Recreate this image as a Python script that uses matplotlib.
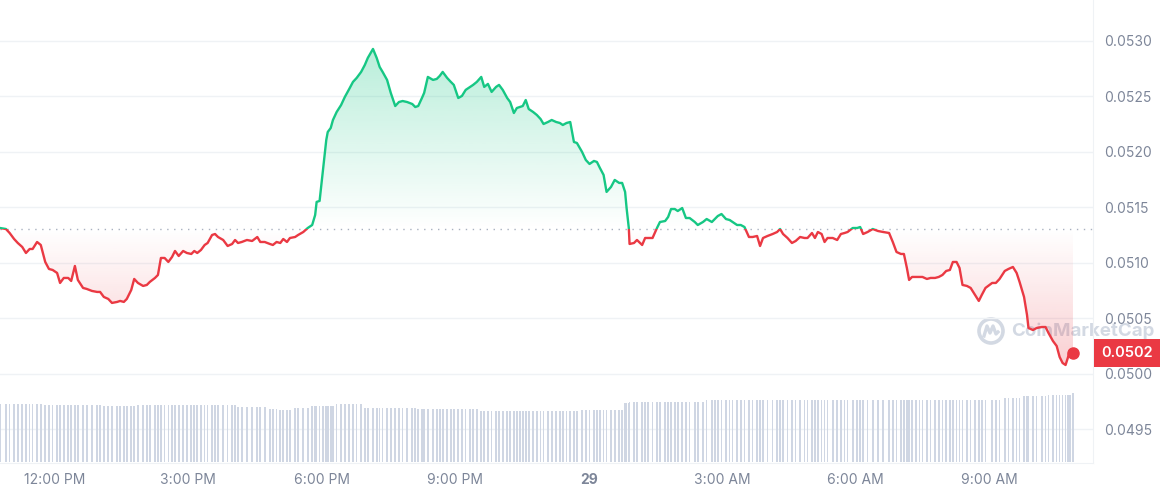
import numpy as np
import pandas as pd
import matplotlib
matplotlib.use("Agg")
import matplotlib.pyplot as plt
from matplotlib.path import Path
from matplotlib.patches import Rectangle, Circle
from matplotlib.transforms import IdentityTransform

plt.rcParams['font.family'] = ['Inter', 'DejaVu Sans']

# ---------------- data ----------------
start = pd.Timestamp('2024-05-28 10:46')   # first point of the 24h window
open_price = 0.05131                        # 24h reference price (dotted line)

# minutes after start
minutes = [
    0, 8, 13, 19, 24, 30, 35, 40, 44, 50, 55, 61,
    66, 71, 77, 81, 86, 92, 96, 101, 105, 112, 117, 124,
    131, 135, 140, 146, 151, 158, 162, 167, 171, 177, 181, 186,
    193, 198, 202, 209, 213, 217, 222, 227, 232, 236, 241, 247,
    252, 258, 262, 266, 271, 276, 280, 286, 290, 294, 301, 307,
    313, 317, 321, 326, 333, 340, 347, 351, 357, 364, 368, 373,
    378, 382, 387, 391, 398, 402, 409, 415, 421, 425, 427, 431,
    436, 440, 442, 446, 449, 454, 460, 465, 471, 476, 481, 487,
    492, 496, 503, 508, 512, 516, 522, 527, 533, 538, 543, 549,
    556, 560, 564, 569, 572, 577, 584, 589, 593, 597, 603, 608,
    612, 618, 623, 628, 634, 638, 643, 649, 653, 658, 663, 669,
    673, 678, 684, 688, 693, 697, 701, 705, 709, 713, 719, 724,
    729, 733, 739, 744, 750, 755, 759, 764, 769, 774, 778, 785,
    790, 795, 801, 805, 809, 814, 818, 824, 829, 835, 839, 843,
    845, 848, 849, 855, 859, 866, 870, 874, 880, 886, 890, 897,
    901, 905, 910, 914, 920, 925, 930, 937, 941, 948, 953, 960,
    964, 968, 973, 979, 984, 988, 994, 999, 1004, 1010, 1015, 1021,
    1025, 1029, 1035, 1042, 1048, 1052, 1056, 1062, 1068, 1073, 1079, 1085,
    1089, 1095, 1099, 1103, 1108, 1112, 1116, 1123, 1129, 1134, 1139, 1143,
    1150, 1156, 1160, 1164, 1170, 1177, 1184, 1191, 1199, 1204, 1209, 1215,
    1219, 1223, 1226, 1230, 1235, 1240, 1244, 1250, 1255, 1261, 1266, 1271,
    1276, 1281, 1285, 1290, 1294, 1298, 1304, 1309, 1315, 1320, 1324, 1329,
    1338, 1343, 1348, 1355, 1360, 1366, 1371, 1375, 1381, 1385, 1387, 1393,
    1398, 1405, 1410, 1414, 1420, 1425, 1429, 1433, 1437, 1440, 1443, 1447,
]

price = [
    0.051315, 0.051306, 0.051270, 0.051216, 0.051180, 0.051144, 0.051090, 0.051126, 0.051126, 0.051189, 0.051162, 0.051009,
    0.050946, 0.050937, 0.050910, 0.050820, 0.050865, 0.050865, 0.050838, 0.050973, 0.050847, 0.050775, 0.050766, 0.050748,
    0.050739, 0.050739, 0.050694, 0.050676, 0.050640, 0.050649, 0.050658, 0.050649, 0.050676, 0.050757, 0.050856, 0.050820,
    0.050793, 0.050802, 0.050829, 0.050865, 0.050892, 0.051045, 0.051045, 0.051009, 0.051054, 0.051108, 0.051063, 0.051108,
    0.051090, 0.051081, 0.051108, 0.051090, 0.051117, 0.051162, 0.051180, 0.051252, 0.051261, 0.051234, 0.051207, 0.051153,
    0.051171, 0.051207, 0.051180, 0.051189, 0.051207, 0.051198, 0.051234, 0.051189, 0.051189, 0.051171, 0.051162, 0.051189,
    0.051180, 0.051216, 0.051189, 0.051225, 0.051234, 0.051252, 0.051279, 0.051315, 0.051342, 0.051432, 0.051550, 0.051559,
    0.051865, 0.052108, 0.052180, 0.052216, 0.052288, 0.052360, 0.052423, 0.052495, 0.052568, 0.052631, 0.052667, 0.052721,
    0.052784, 0.052847, 0.052928, 0.052847, 0.052766, 0.052721, 0.052649, 0.052532, 0.052414, 0.052450, 0.052459, 0.052450,
    0.052432, 0.052405, 0.052414, 0.052486, 0.052532, 0.052676, 0.052649, 0.052658, 0.052685, 0.052721, 0.052667, 0.052631,
    0.052604, 0.052486, 0.052505, 0.052559, 0.052586, 0.052604, 0.052631, 0.052676, 0.052586, 0.052613, 0.052541, 0.052586,
    0.052604, 0.052559, 0.052486, 0.052450, 0.052351, 0.052396, 0.052405, 0.052414, 0.052468, 0.052387, 0.052360, 0.052333,
    0.052297, 0.052252, 0.052270, 0.052288, 0.052270, 0.052261, 0.052243, 0.052261, 0.052270, 0.052090, 0.052081, 0.052000,
    0.051928, 0.051892, 0.051919, 0.051910, 0.051856, 0.051793, 0.051640, 0.051685, 0.051748, 0.051721, 0.051721, 0.051640,
    0.051495, 0.051315, 0.051171, 0.051180, 0.051207, 0.051162, 0.051225, 0.051225, 0.051225, 0.051315, 0.051369, 0.051378,
    0.051414, 0.051486, 0.051486, 0.051468, 0.051495, 0.051405, 0.051405, 0.051369, 0.051342, 0.051369, 0.051396, 0.051369,
    0.051396, 0.051423, 0.051441, 0.051396, 0.051387, 0.051369, 0.051342, 0.051342, 0.051324, 0.051234, 0.051234, 0.051243,
    0.051153, 0.051225, 0.051243, 0.051261, 0.051279, 0.051306, 0.051261, 0.051225, 0.051180, 0.051198, 0.051234, 0.051225,
    0.051225, 0.051270, 0.051225, 0.051279, 0.051261, 0.051189, 0.051225, 0.051225, 0.051207, 0.051261, 0.051270, 0.051279,
    0.051315, 0.051315, 0.051324, 0.051261, 0.051279, 0.051306, 0.051288, 0.051279, 0.051270, 0.051189, 0.051099, 0.051081,
    0.051081, 0.050955, 0.050847, 0.050874, 0.050874, 0.050874, 0.050874, 0.050856, 0.050865, 0.050865, 0.050874, 0.050892,
    0.050928, 0.050937, 0.051009, 0.051009, 0.050955, 0.050802, 0.050793, 0.050775, 0.050712, 0.050658, 0.050712, 0.050775,
    0.050820, 0.050820, 0.050856, 0.050928, 0.050946, 0.050964, 0.050910, 0.050829, 0.050694, 0.050532, 0.050414, 0.050396,
    0.050414, 0.050423, 0.050423, 0.050369, 0.050297, 0.050252, 0.050153, 0.050099, 0.050081, 0.050144, 0.050216, 0.050189,
]

# 24h volume bars (relative units)
volume = [
    5.8, 5.8, 5.8, 5.8, 5.8, 5.8, 5.8, 5.8, 5.8, 5.8, 5.8, 5.7,
    5.7, 5.7, 5.7, 5.7, 5.7, 5.7, 5.7, 5.7, 5.7, 5.7, 5.7, 5.7,
    5.7, 5.7, 5.6, 5.6, 5.6, 5.6, 5.6, 5.6, 5.6, 5.6, 5.6, 5.7,
    5.7, 5.7, 5.7, 5.7, 5.7, 5.7, 5.7, 5.7, 5.7, 5.7, 5.7, 5.7,
    5.7, 5.7, 5.7, 5.7, 5.7, 5.7, 5.7, 5.7, 5.7, 5.7, 5.7, 5.7,
    5.7, 5.7, 5.55, 5.55, 5.55, 5.55, 5.55, 5.55, 5.55, 5.3, 5.3, 5.3,
    5.2, 5.2, 5.2, 5.2, 5.4, 5.4, 5.4, 5.4, 5.6, 5.6, 5.6, 5.6,
    5.6, 5.6, 5.6, 5.6, 5.6, 5.8, 5.8, 5.8, 5.8, 5.8, 5.8, 5.8,
    5.4, 5.4, 5.4, 5.4, 5.4, 5.4, 5.4, 5.4, 5.4, 5.4, 5.4, 5.4,
    5.4, 5.4, 5.3, 5.3, 5.3, 5.3, 5.3, 5.3, 5.3, 5.3, 5.3, 5.3,
    5.3, 5.3, 5.3, 5.3, 5.3, 5.3, 5.3, 5.15, 5.15, 5.15, 5.15, 5.15,
    5.15, 5.15, 5.15, 5.15, 5.15, 5.15, 5.15, 5.15, 5.15, 5.15, 5.15, 5.15,
    5.15, 5.15, 5.15, 5.15, 5.15, 5.15, 5.15, 5.15, 5.15, 5.15, 5.15, 5.2,
    5.2, 5.2, 5.2, 5.2, 5.2, 5.2, 5.2, 5.2, 5.2, 5.2, 5.2, 5.9,
    5.9, 5.9, 6.05, 6.05, 6.05, 6.05, 6.05, 6.05, 6.05, 6.05, 6.05, 6.05,
    6.05, 6.05, 6.05, 6.05, 6.05, 6.05, 6.05, 6.05, 6.05, 6.05, 6.2, 6.2,
    6.2, 6.2, 6.2, 6.2, 6.2, 6.2, 6.2, 6.2, 6.2, 6.2, 6.2, 6.2,
    6.2, 6.2, 6.2, 6.2, 6.2, 6.2, 6.2, 6.2, 6.2, 6.2, 6.2, 6.2,
    6.2, 6.2, 6.2, 6.2, 6.2, 6.2, 6.2, 6.2, 6.2, 6.2, 6.2, 6.2,
    6.2, 6.2, 6.2, 6.2, 6.2, 6.2, 6.2, 6.2, 6.2, 6.2, 6.2, 6.2,
    6.2, 6.2, 6.2, 6.2, 6.2, 6.2, 6.2, 6.2, 6.2, 6.2, 6.2, 6.2,
    6.2, 6.2, 6.2, 6.2, 6.2, 6.2, 6.2, 6.2, 6.2, 6.2, 6.2, 6.2,
    6.2, 6.2, 6.2, 6.4, 6.4, 6.4, 6.4, 6.4, 6.6, 6.6, 6.6, 6.6,
    6.6, 6.6, 6.6, 6.75, 6.75, 6.75, 6.75, 6.75, 6.75, 6.75, 6.75, 6.9,
]

y_ticks = [0.0495, 0.0500, 0.0505, 0.0510, 0.0515, 0.0520, 0.0525, 0.0530]
x_tick_times = pd.date_range('2024-05-28 12:00', periods=8, freq='3h')
x_tick_labels = ['12:00 PM', '3:00 PM', '6:00 PM', '9:00 PM', '29', '3:00 AM', '6:00 AM', '9:00 AM']

# ---------------- style ----------------
GREEN = '#16c784'
RED = '#ea3943'
GRID = '#eff2f5'
LABEL = '#7d8699'
VOL = '#cfd6e3'
WM = '#d3d9e3'

x = np.array(minutes, dtype=float)
p = np.array(price)
v = np.array(volume)
tick_pos = (x_tick_times - start) / pd.Timedelta(minutes=1)

fig = plt.figure(figsize=(11.61, 4.95), dpi=100)
ax = fig.add_axes([0, 32 / 495, 1093 / 1161, 463 / 495])

xmax = 1474
ylo, yhi = 0.049198, 0.053369

# volume bars on a hidden twin axis (twinx moves ticks, so do it first)
vax = ax.twinx()
vax.bar(x, v, width=2.2, color=VOL, linewidth=0)
vax.set_ylim(-0.1, 46.3)
vax.set_xlim(0, xmax)
vax.axis('off')

# gradient fills between line and the open price
poly = ax.fill_between(x, p, open_price, facecolor='none', edgecolor='none')
clip = Path.make_compound_path(*poly.get_paths())

g = np.zeros((256, 1, 4))
g[..., :3] = matplotlib.colors.to_rgb(GREEN)
g[:, 0, 3] = np.linspace(0.0, 0.30, 256)
im = ax.imshow(g, extent=(x[0], x[-1], open_price, p.max()), origin='lower',
               aspect='auto', zorder=1, interpolation='bilinear')
im.set_clip_path(clip, ax.transData)

r = np.zeros((256, 1, 4))
r[..., :3] = matplotlib.colors.to_rgb(RED)
r[:, 0, 3] = np.linspace(0.24, 0.0, 256)
im2 = ax.imshow(r, extent=(x[0], x[-1], p.min(), open_price), origin='lower',
                aspect='auto', zorder=1, interpolation='bilinear')
im2.set_clip_path(clip, ax.transData)

# price line: green above the open, red below
up, = ax.plot(x, p, color=GREEN, lw=1.7, zorder=3, solid_joinstyle='round')
dn, = ax.plot(x, p, color=RED, lw=1.7, zorder=3, solid_joinstyle='round')
up.set_clip_path(Rectangle((-100, open_price), 5000, 1, transform=ax.transData))
dn.set_clip_path(Rectangle((-100, open_price - 1), 5000, 1, transform=ax.transData))

ax.axhline(open_price, color='#a9b1c0', lw=1, ls=(0, (1, 4)), zorder=2)
ax.plot(x[-1], p[-1], 'o', color=RED, ms=8, zorder=4)

ax.set_xlim(0, xmax)
ax.set_ylim(ylo, yhi)
ax.set_yticks(y_ticks)
ax.yaxis.set_major_formatter(matplotlib.ticker.FormatStrFormatter('%.4f'))
ax.yaxis.tick_right()
ax.yaxis.set_label_position('right')
ax.set_xticks(tick_pos, x_tick_labels)
ax.grid(axis='y', color=GRID, lw=1)
ax.set_axisbelow(True)
ax.tick_params(axis='y', length=0, pad=8, labelcolor=LABEL, labelsize=10,
               right=True, labelright=True, left=False, labelleft=False)
ax.tick_params(axis='x', length=0, pad=7, labelcolor=LABEL, labelsize=10)
ax.get_xticklabels()[4].set_fontweight('bold')
for s in ['top', 'left']:
    ax.spines[s].set_visible(False)
for s in ['right', 'bottom']:
    ax.spines[s].set_color(GRID)

# current price tag
ax.annotate(f'{p[-1]:.4f}', xy=(1, p[-1]), xycoords=ax.get_yaxis_transform(),
            xytext=(8, 0), textcoords='offset pixels', ha='left', va='center',
            color='white', fontsize=10.5, fontweight='semibold', annotation_clip=False,
            bbox=dict(boxstyle='square,pad=0.5', fc=RED, ec='none'), zorder=6)

# watermark
ax.text(1083 / 1161, 164 / 495, 'CoinMarketCap', transform=fig.transFigure,
        ha='center', va='center', fontsize=13.5, fontweight='bold',
        color=WM, zorder=0.5)
ring = Circle((991, 164), 12, transform=IdentityTransform(), fill=False,
              ec=WM, lw=2.6, zorder=0.5, clip_on=False)
ax.add_patch(ring)
ax.plot([984, 987, 990, 993, 996, 998], [159, 169, 162, 169, 161, 163],
        transform=IdentityTransform(), color=WM, lw=2.4,
        zorder=0.5, clip_on=False, solid_joinstyle='round')

fig.savefig('out.png', dpi=100)
